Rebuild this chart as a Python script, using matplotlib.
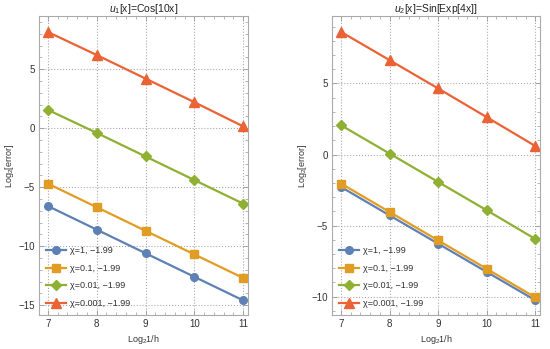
import matplotlib
matplotlib.use("Agg")
import matplotlib.pyplot as plt
from matplotlib.ticker import MultipleLocator

plt.rcParams['font.family'] = ['Liberation Sans', 'DejaVu Sans']
plt.rcParams['mathtext.fontset'] = 'custom'
plt.rcParams['mathtext.it'] = 'Liberation Sans:italic'
plt.rcParams['mathtext.rm'] = 'Liberation Sans'

log_inv_h = [7, 8, 9, 10, 11]
labels = ["χ=1, −1.99", "χ=0.1, −1.99", "χ=0.01, −1.99", "χ=0.001, −1.99"]

u1_chi1 = [-6.6, -8.6, -10.6, -12.6, -14.6]
u1_chi01 = [-4.7, -6.7, -8.7, -10.7, -12.7]
u1_chi001 = [1.55, -0.4, -2.4, -4.4, -6.4]
u1_chi0001 = [8.15, 6.2, 4.2, 2.2, 0.15]

u2_chi1 = [-2.28, -4.28, -6.27, -8.26, -10.25]
u2_chi01 = [-2.04, -4.04, -6.04, -8.04, -10.05]
u2_chi001 = [2.06, 0.07, -1.93, -3.92, -5.94]
u2_chi0001 = [8.63, 6.64, 4.65, 2.63, 0.6]

colors = ['#5E81B5', '#E19C24', '#8FB032', '#EB6235']
markers = ['o', 's', 'D', '^']
msizes = [5.5, 5.5, 5, 7.5]

fig = plt.figure(figsize=(5.5, 3.49), dpi=100)
ax1 = fig.add_axes([0.071, 0.097, 0.380, 0.857])
ax2 = fig.add_axes([0.604, 0.097, 0.378, 0.857])

panels = [
    (ax1, [u1_chi1, u1_chi01, u1_chi001, u1_chi0001], r"$u_1$[x]=Cos[10x]", (-15.85, 9.5)),
    (ax2, [u2_chi1, u2_chi01, u2_chi001, u2_chi0001], r"$u_2$[x]=Sin[Exp[4x]]", (-11.3, 9.74)),
]

for ax, series, title, ylim in panels:
    for ys, c, m, ms, lab in zip(series, colors, markers, msizes, labels):
        ax.plot(log_inv_h, ys, '-', marker=m, color=c, lw=1.6, ms=ms, label=lab)
    ax.set_xlim(6.82, 11.1)
    ax.set_ylim(*ylim)
    ax.xaxis.set_major_locator(MultipleLocator(1))
    ax.xaxis.set_minor_locator(MultipleLocator(0.2))
    ax.yaxis.set_major_locator(MultipleLocator(5))
    ax.yaxis.set_minor_locator(MultipleLocator(1))
    ax.tick_params(which='both', direction='in', top=True, right=True,
                   labeltop=False, labelright=False, color='#999999',
                   labelsize=7, labelcolor='#333333', pad=3)
    ax.tick_params(which='major', length=3.5, width=0.6)
    ax.tick_params(which='minor', length=2, width=0.5)
    ax.grid(True, which='major', ls=':', color='#aaaaaa', lw=0.8)
    ax.grid(False, which='minor')
    for s in ax.spines.values():
        s.set_color('#aaaaaa')
        s.set_linewidth(0.8)
    ax.set_title(title, fontsize=7.5, pad=2, color='#222222')
    ax.set_xlabel(r"Log$_2$1/h", fontsize=6.5, color='#333333', labelpad=3)
    ax.set_ylabel(r"Log$_2$[error]", fontsize=6.5, color='#333333', labelpad=2)
    leg = ax.legend(loc='lower left', frameon=False, fontsize=6.5,
                    handlelength=2.2, labelspacing=0.95, borderaxespad=0.4,
                    handletextpad=0.4)
    for t in leg.get_texts():
        t.set_color('#333333')

fig.savefig("out.png", dpi=100)
